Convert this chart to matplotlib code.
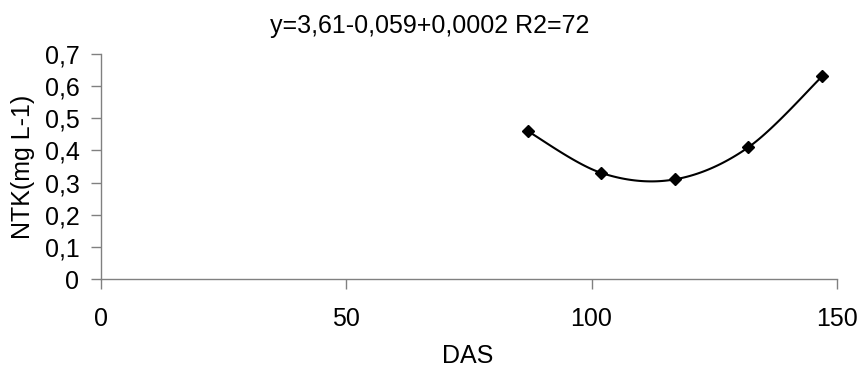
import numpy as np
import matplotlib.pyplot as plt
from matplotlib.ticker import FuncFormatter

plt.rcParams['font.family'] = ['Liberation Sans', 'DejaVu Sans']

das = [87, 102, 117, 132, 147]
ntk = [0.46, 0.33, 0.31, 0.41, 0.63]
x_ticks = [0, 50, 100, 150]
y_ticks = [0, 0.1, 0.2, 0.3, 0.4, 0.5, 0.6, 0.7]
title = "y=3,61-0,059+0,0002 R2=72"


def smooth_line(xs, ys, steps=30):
    # spreadsheet-style smoothed line: cubic Bezier segments with Catmull-Rom handles
    pts = np.column_stack([xs, ys]).astype(float)
    n = len(pts)
    out = [pts[0]]
    for i in range(n - 1):
        p0 = pts[i - 1] if i > 0 else pts[i]
        p1, p2 = pts[i], pts[i + 1]
        p3 = pts[i + 2] if i + 2 < n else pts[i + 1]
        c1 = p1 + (p2 - p0) / 6.0
        c2 = p2 - (p3 - p1) / 6.0
        t = np.linspace(0, 1, steps)[1:, None]
        seg = ((1 - t) ** 3 * p1 + 3 * (1 - t) ** 2 * t * c1
               + 3 * (1 - t) * t ** 2 * c2 + t ** 3 * p2)
        out.extend(seg)
    out = np.array(out)
    return out[:, 0], out[:, 1]


fig = plt.figure(figsize=(8.62, 3.68), dpi=100)
ax = fig.add_axes([0.1172, 0.2418, 0.8535, 0.6115])

sx, sy = smooth_line(das, ntk)
ax.plot(sx, sy, color='black', lw=1.5, zorder=2)
ax.plot(das, ntk, linestyle='none', marker='D', ms=6.5, color='black', zorder=3)

ax.set_xlim(0, 150)
ax.set_ylim(0, 0.7)
ax.set_xticks(x_ticks)
ax.set_yticks(y_ticks)
comma = FuncFormatter(lambda v, pos: ('%g' % round(v, 2)).replace('.', ','))
ax.xaxis.set_major_formatter(comma)
ax.yaxis.set_major_formatter(comma)

for side in ['top', 'right']:
    ax.spines[side].set_visible(False)
for side in ['left', 'bottom']:
    ax.spines[side].set_color('#808080')
    ax.spines[side].set_linewidth(1.0)
ax.tick_params(axis='both', colors='#808080', length=7, width=1.0,
               labelcolor='black', labelsize=18)
ax.tick_params(axis='x', pad=13)
ax.tick_params(axis='y', pad=8.5)

fig.text(430 / 862, 1 - 26 / 368, title, ha='center', va='center', fontsize=18)
fig.text(23 / 862, 1 - 167 / 368, 'NTK(mg L-1)', rotation=90,
         ha='center', va='center', fontsize=18)
fig.text(468 / 862, 1 - 356 / 368, 'DAS', ha='center', va='center', fontsize=18)

fig.savefig('out.png', dpi=100)
